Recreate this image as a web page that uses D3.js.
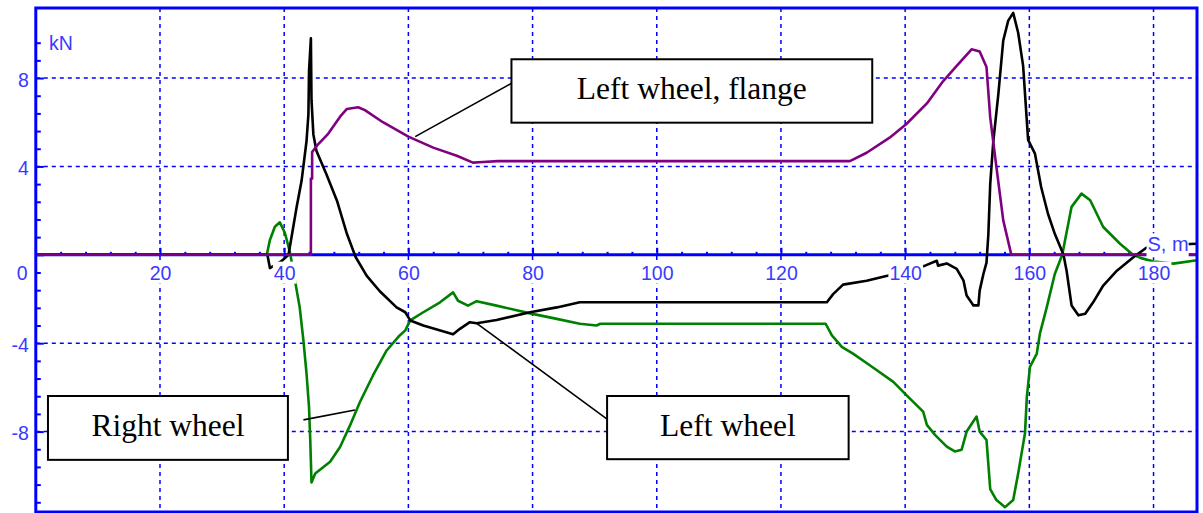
<!DOCTYPE html>
<html><head><meta charset="utf-8">
<script src="https://cdn.jsdelivr.net/npm/d3@7"></script>
<style>html,body{margin:0;padding:0;background:#fff;} svg{display:block}</style>
</head><body>
<svg id="chart" width="1203" height="513"></svg>
<script>
// ---- data ----
const xTicks = [20, 40, 60, 80, 100, 120, 140, 160, 180];
const xTickLabels = ["20", "40", "60", "80", "100", "120", "140", "160", "180"];
const yTicks = [-8, -4, 4, 8];
const yTickLabels = ["-8", "-4", "4", "8"];
const xAxisTitle = "S, m";
const yAxisTitle = "kN";

// Left wheel, flange force [S m, kN]
const leftFlange = [
  [0,0],[44.3,0],[44.3,3.45],[44.5,3.45],[44.5,4.65],[45.3,4.95],[47.0,5.45],[49.0,6.25],
  [50.1,6.6],[51.9,6.68],[53.0,6.55],[55.9,6.0],[60.0,5.35],[64.0,4.85],[67.8,4.48],
  [70.4,4.17],[72.0,4.2],[74.4,4.24],[131.1,4.24],[133.8,4.62],[137.5,5.3],[140.2,5.92],
  [143.5,6.85],[146.1,7.85],[148.3,8.55],[150.7,9.3],[152.0,9.2],[153.1,8.5],[153.7,6.22],
  [154.7,3.97],[155.8,1.56],[157.1,0],[187,0]
];
// Left wheel force
const leftWheel = [
  [0,0],[37.3,0],[37.7,-0.6],[39.5,-0.3],[40.7,0],[42.0,2.15],[42.8,3.35],[43.6,5.15],
  [43.9,6.35],[44.0,8.3],[44.3,9.8],[44.4,7.0],[44.7,5.45],[45.2,4.7],[46.8,3.65],
  [48.5,2.45],[50.1,0.95],[51.5,-0.1],[53.3,-0.95],[55.4,-1.65],[58.1,-2.38],[59.5,-2.6],
  [60.3,-2.97],[62.4,-3.2],[67.2,-3.6],[68.3,-3.35],[69.9,-3.05],[71.0,-3.1],[74.2,-2.95],
  [79.6,-2.6],[83.9,-2.38],[87.6,-2.15],[127.4,-2.15],[128.4,-1.78],[130.0,-1.35],
  [133.8,-1.17],[137.3,-0.94],[143.2,-0.49],[145.1,-0.27],[145.3,-0.49],[146.7,-0.39],
  [148.3,-0.64],[149.4,-1.17],[149.9,-1.84],[151.0,-2.29],[151.8,-2.29],[152.0,-1.62],
  [152.6,-0.87],[153.1,-0.35],[153.4,0.93],[153.7,3.2],[154.2,5.15],[155.0,7.25],
  [155.8,9.7],[156.6,10.6],[157.4,10.95],[158.2,10.05],[159.0,8.55],[159.8,5.2],
  [160.9,4.58],[161.9,3.07],[163.0,1.86],[164.1,0.95],[165.5,0],[166.0,-0.72],
  [166.8,-2.29],[167.9,-2.74],[169.0,-2.67],[170.3,-2.14],[171.9,-1.39],[174.1,-0.72],
  [176.7,-0.12],[178.9,0.33],[182,0.45],[187,0.5]
];
// Right wheel force
const rightWheel = [
  [0,0],[37.2,0],[37.7,0.67],[38.5,1.27],[39.3,1.47],[40.1,1.0],[40.7,0.37],[41.0,0],
  [41.7,-1.1],[42.5,-2.38],[43.1,-3.88],[43.6,-5.38],[44.0,-6.9],[44.2,-8.4],[44.4,-10.3],
  [45.0,-9.9],[47.4,-9.37],[49.0,-8.7],[50.6,-7.72],[52.2,-6.66],[54.3,-5.46],[56.5,-4.33],
  [58.6,-3.65],[59.5,-3.42],[60.3,-2.97],[62.4,-2.6],[65.1,-2.15],[67.2,-1.7],[68.0,-2.08],
  [69.6,-2.3],[71.0,-2.1],[74.2,-2.3],[79.6,-2.65],[83.9,-2.9],[87.6,-3.12],[90.3,-3.2],
  [90.9,-3.12],[127.2,-3.12],[128.2,-3.65],[129.8,-4.17],[131.6,-4.47],[134.3,-5.0],
  [138.1,-5.75],[140.2,-6.35],[142.9,-7.1],[143.5,-7.7],[144.8,-8.15],[146.7,-8.68],
  [148.0,-8.9],[149.1,-8.82],[149.9,-8.0],[151.5,-7.32],[152.0,-8.0],[153.1,-8.38],
  [153.7,-10.6],[154.7,-11.1],[156.1,-11.42],[157.4,-11.1],[158.2,-9.9],[159.3,-8.08],
  [159.6,-6.42],[160.1,-5.07],[161.2,-4.47],[161.7,-3.57],[162.8,-2.38],[164.1,-0.87],
  [165.3,0],[166.8,2.17],[168.4,2.77],[169.8,2.47],[171.9,1.26],[174.6,0.5],[176.7,0],
  [178.0,-0.15],[180,-0.3],[183.2,-0.4],[187,-0.25]
];

// callouts: box [s0, f0, s1, f1], leader from -> to (data units)
const callouts = [
  {text: "Left wheel, flange", box: [76.6, 8.85, 134.7, 5.98], from: [61.1, 5.35], to: [76.6, 7.76]},
  {text: "Left wheel",         box: [92.0, -6.39, 130.9, -9.25], from: [71.0, -3.1], to: [92.0, -7.44]},
  {text: "Right wheel",        box: [1.96, -6.39, 40.6, -9.28], from: [43.1, -7.47], to: [51.4, -7.02]}
];

// ---- chart ----
const svg = d3.select("#chart");
const L = 35.8, R = 1197, T = 8, B = 512;
const x = d3.scaleLinear().domain([0, 187]).range([L, R]);
const y = d3.scaleLinear().domain([-11.64, 11.17]).range([B, T]);
const BLUE = "#0000ff", LBLUE = "#3a3aff";
const AXFONT = "'Liberation Sans', Arial, sans-serif";

svg.append("rect").attr("width", 1203).attr("height", 513).attr("fill", "#fff");

// grid
const grid = svg.append("g").attr("stroke", BLUE).attr("stroke-width", 1.5).attr("stroke-dasharray", "4,4");
grid.selectAll("line.v").data(xTicks).join("line").attr("class", "v")
  .attr("x1", d => x(d)).attr("x2", d => x(d)).attr("y1", T).attr("y2", B);
grid.selectAll("line.h").data(yTicks).join("line").attr("class", "h")
  .attr("y1", d => y(d)).attr("y2", d => y(d)).attr("x1", L).attr("x2", R);

// y axis ticks (inside, pointing right)
const yMinor = d3.range(-14, 13).map(i => +(i * 0.8).toFixed(2)).filter(v => v >= -11.2 && v <= 9.6 && Math.abs(v / 4 - Math.round(v / 4)) > 1e-6);
const yAxMinor = svg.append("g").attr("transform", `translate(${L},0)`)
  .call(d3.axisRight(y).tickValues(yMinor).tickSize(5).tickFormat(""));
const yAxMajor = svg.append("g").attr("transform", `translate(${L},0)`)
  .call(d3.axisRight(y).tickValues(yTicks.concat([0])).tickSize(8).tickFormat(""));
[yAxMinor, yAxMajor].forEach(g => {
  g.select(".domain").remove();
  g.selectAll("line").attr("stroke", BLUE).attr("stroke-width", 2);
});

// y labels
const yLab = svg.append("g").attr("transform", `translate(${L},0)`)
  .call(d3.axisLeft(y).tickValues(yTicks).tickSize(0).tickPadding(7).tickFormat((d, i) => yTickLabels[i]));
yLab.select(".domain").remove();
yLab.selectAll("text").attr("font-family", AXFONT).attr("font-size", 19.5).attr("fill", LBLUE).attr("dy", "0.42em");

// x axis minor ticks
const xMinor = d3.range(4, 187, 4).filter(v => v % 20 !== 0);
const xAxMinor = svg.append("g").attr("transform", `translate(0,${y(0)})`)
  .call(d3.axisBottom(x).tickValues(xMinor).tickSize(-3).tickFormat(""));
xAxMinor.select(".domain").remove();
xAxMinor.selectAll("line").attr("stroke", BLUE).attr("stroke-width", 2);

// x axis line
svg.append("line").attr("x1", L).attr("x2", R).attr("y1", y(0)).attr("y2", y(0))
  .attr("stroke", BLUE).attr("stroke-width", 3);

// curves
const line = d3.line().x(d => x(d[0])).y(d => y(d[1]));
const curves = [
  {data: rightWheel, color: "#008000"},
  {data: leftWheel, color: "#000000"},
  {data: leftFlange, color: "#800080"}
];
svg.append("g").selectAll("path").data(curves).join("path")
  .attr("d", d => line(d.data)).attr("fill", "none").attr("stroke", d => d.color)
  .attr("stroke-width", 2.6).attr("stroke-linejoin", "round");

// x axis with labels
const xAx = svg.append("g").attr("transform", `translate(0,${y(0)})`)
  .call(d3.axisBottom(x).tickValues(xTicks).tickSize(-7).tickPadding(11).tickFormat((d, i) => xTickLabels[i]));
xAx.select(".domain").remove();
xAx.selectAll("line").attr("stroke", BLUE).attr("stroke-width", 2);
xAx.selectAll("text").attr("font-family", AXFONT).attr("font-size", 19.5).attr("fill", LBLUE);
xAx.selectAll(".tick").each(function () {
  const t = d3.select(this).select("text");
  const bb = t.node().getBBox();
  d3.select(this).insert("rect", "text")
    .attr("x", bb.x - 1).attr("y", bb.y).attr("width", bb.width + 2).attr("height", bb.height)
    .attr("fill", "#fff");
});

// origin label "0"
svg.append("text").attr("x", 27.5).attr("y", y(0) + 25).attr("text-anchor", "end")
  .attr("font-family", AXFONT).attr("font-size", 19.5).attr("fill", LBLUE).text("0");

// axis titles
const sm = svg.append("text").attr("x", x(180) - 6).attr("y", y(0) - 3.5)
  .attr("font-family", AXFONT).attr("font-size", 20).attr("fill", LBLUE).text(xAxisTitle);
const smb = sm.node().getBBox();
svg.insert("rect", () => sm.node())
  .attr("x", smb.x - 1).attr("y", smb.y).attr("width", smb.width + 1).attr("height", y(0) + 2.5 - smb.y)
  .attr("fill", "#fff");
svg.append("text").attr("x", 49).attr("y", 50)
  .attr("font-family", AXFONT).attr("font-size", 19.5).attr("fill", LBLUE).text(yAxisTitle);

// frame
svg.append("rect").attr("x", L).attr("y", T).attr("width", R - L).attr("height", B - T)
  .attr("fill", "none").attr("stroke", BLUE).attr("stroke-width", 3);

// callouts
const cg = svg.append("g");
callouts.forEach(c => {
  cg.append("line").attr("x1", x(c.from[0])).attr("y1", y(c.from[1]))
    .attr("x2", x(c.to[0])).attr("y2", y(c.to[1])).attr("stroke", "#000").attr("stroke-width", 1.6);
  const x0 = x(c.box[0]), y0 = y(c.box[1]), x1 = x(c.box[2]), y1 = y(c.box[3]);
  cg.append("rect").attr("x", x0).attr("y", y0).attr("width", x1 - x0).attr("height", y1 - y0)
    .attr("fill", "#fff").attr("stroke", "#000").attr("stroke-width", 2);
  cg.append("text").attr("x", (x0 + x1) / 2).attr("y", (y0 + y1) / 2 + 8.5)
    .attr("text-anchor", "middle").attr("font-family", "'Liberation Serif', 'Times New Roman', serif")
    .attr("font-size", 31.5).attr("fill", "#000").text(c.text);
});
</script>
</body></html>
